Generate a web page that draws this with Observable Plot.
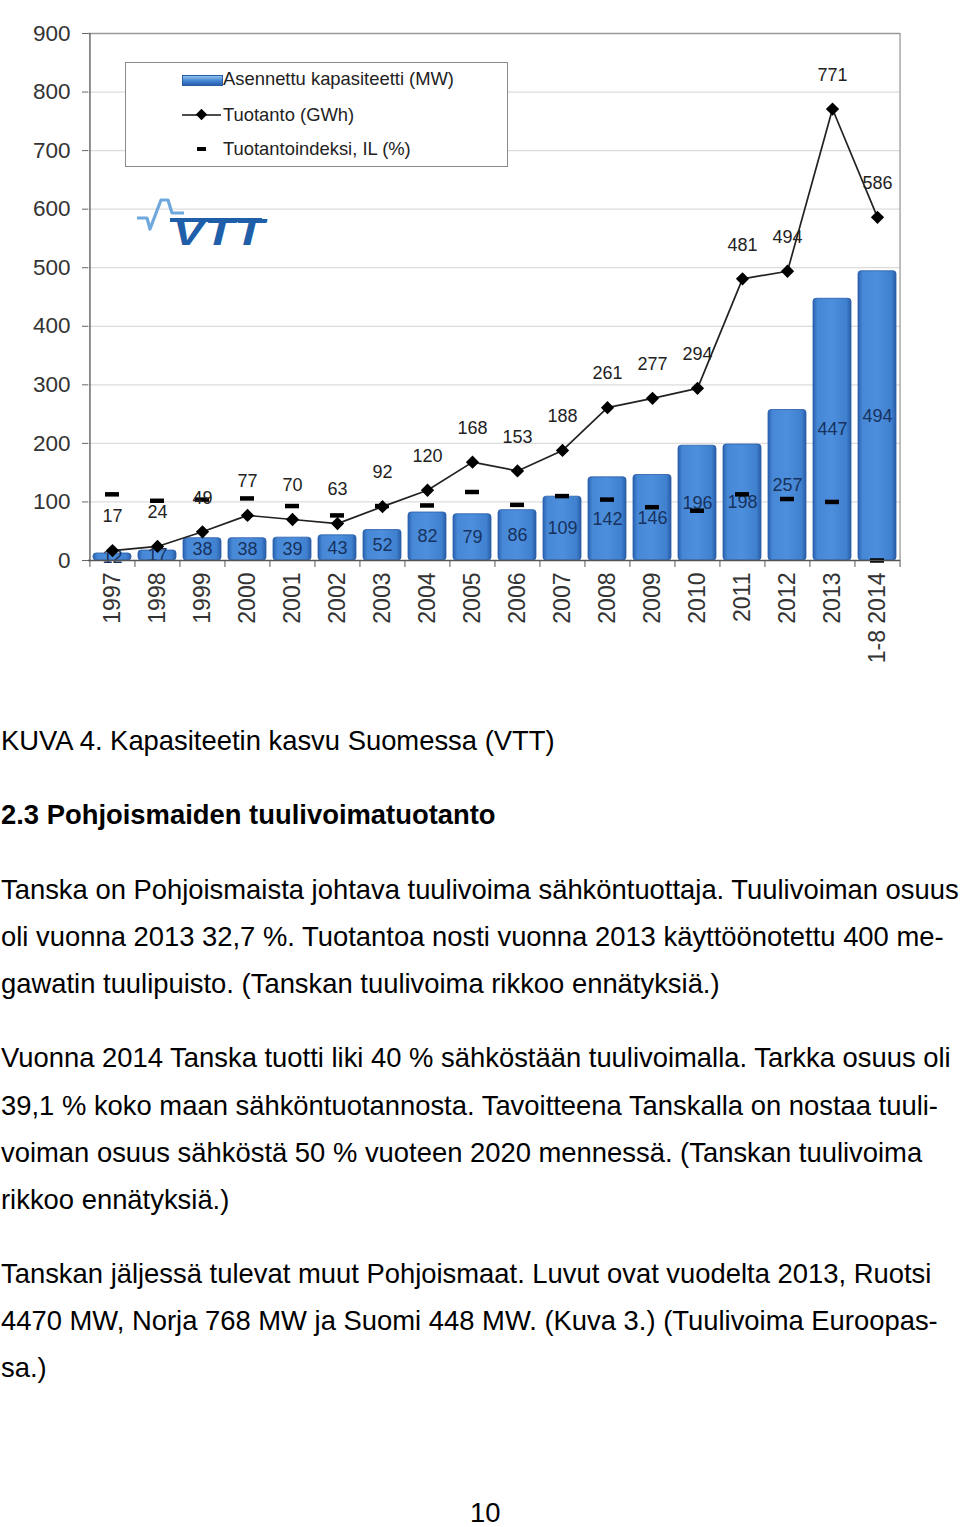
<!DOCTYPE html>
<html>
<head>
<meta charset="utf-8">
<script src="https://cdn.jsdelivr.net/npm/d3@7"></script>
<script src="https://cdn.jsdelivr.net/npm/@observablehq/plot@0.6"></script>
<style>
  html, body { margin: 0; padding: 0; background: #fff; }
  #page { position: relative; width: 960px; height: 1527px; overflow: hidden; font-family: "Liberation Sans", Arial, sans-serif; color: #000; }
  #chart { position: absolute; left: 0; top: 0; }
  #legend { position: absolute; left: 125px; top: 62px; width: 383px; height: 105px; border: 1.3px solid #8a8a8a; box-sizing: border-box; background: #fff; font-family: "Liberation Sans", Arial, sans-serif; font-size: 18.4px; color: #222; }
  .li { position: absolute; left: 97px; height: 24px; line-height: 24px; white-space: nowrap; }
  .line { position: absolute; left: 1px; width: 980px; height: 40px; line-height: 40px; white-space: nowrap; font-size: 27.4px; }
</style>
</head>
<body>
<div id="page">
  <div id="chart"></div>
  <div id="legend">
    <div style="position:absolute;left:56px;top:12px;width:39px;height:9px;background:linear-gradient(#8fc0f0,#3f7fcf 60%,#2a5fab);border:1px solid #2a5da8;"></div>
    <div class="li" style="top:4px;">Asennettu kapasiteetti (MW)</div>
    <svg style="position:absolute;left:56px;top:44px;" width="40" height="16"><line x1="0" y1="8" x2="39" y2="8" stroke="#111" stroke-width="1.5"/><rect x="15.5" y="3.5" width="8" height="8" transform="rotate(45 19.5 7.5)" fill="#000"/></svg>
    <div class="li" style="top:40px;">Tuotanto (GWh)</div>
    <div style="position:absolute;left:71px;top:84px;width:9px;height:4px;background:#000;"></div>
    <div class="li" style="top:74px;">Tuotantoindeksi, IL (%)</div>
  </div>
  <svg style="position:absolute;left:130px;top:195px;overflow:visible;" width="140" height="55">
    <path d="M7,23 L17,23 L20,34 L31,5 L38,5 L42,18 L54,18" fill="none" stroke="#6ea8dc" stroke-width="3.2" stroke-linejoin="round"/>
    <g transform="skewX(-14)">
      <text x="52" y="50" font-family="Liberation Sans, Arial" font-weight="bold" font-size="38" fill="#1f5ea8" textLength="92" lengthAdjust="spacingAndGlyphs">VTT</text>
    </g>
    <line x1="40" y1="25" x2="132" y2="25" stroke="#1f5ea8" stroke-width="4"/>
  </svg>

  <div class="line" style="top:721px;">KUVA 4. Kapasiteetin kasvu Suomessa (VTT)</div>
  <div class="line" style="top:795px;font-weight:bold;">2.3 Pohjoismaiden tuulivoimatuotanto</div>
  <div class="line" style="top:870px;">Tanska on Pohjoismaista johtava tuulivoima sähköntuottaja. Tuulivoiman osuus</div>
  <div class="line" style="top:917px;">oli vuonna 2013 32,7 %. Tuotantoa nosti vuonna 2013 käyttöönotettu 400 me-</div>
  <div class="line" style="top:964px;">gawatin tuulipuisto. (Tanskan tuulivoima rikkoo ennätyksiä.)</div>
  <div class="line" style="top:1038px;">Vuonna 2014 Tanska tuotti liki 40 % sähköstään tuulivoimalla. Tarkka osuus oli</div>
  <div class="line" style="top:1086px;">39,1 % koko maan sähköntuotannosta. Tavoitteena Tanskalla on nostaa tuuli-</div>
  <div class="line" style="top:1133px;">voiman osuus sähköstä 50 % vuoteen 2020 mennessä. (Tanskan tuulivoima</div>
  <div class="line" style="top:1180px;">rikkoo ennätyksiä.)</div>
  <div class="line" style="top:1254px;">Tanskan jäljessä tulevat muut Pohjoismaat. Luvut ovat vuodelta 2013, Ruotsi</div>
  <div class="line" style="top:1301px;">4470 MW, Norja 768 MW ja Suomi 448 MW. (Kuva 3.) (Tuulivoima Euroopas-</div>
  <div class="line" style="top:1348px;">sa.)</div>
  <div class="line" style="top:1493px;left:470px;width:40px;">10</div>
</div>
<script>
const years = ["1997","1998","1999","2000","2001","2002","2003","2004","2005","2006","2007","2008","2009","2010","2011","2012","2013","1-8 2014"];
const capacity = [12,17,38,38,39,43,52,82,79,86,109,142,146,196,198,257,447,494];
const production = [17,24,49,77,70,63,92,120,168,153,188,261,277,294,481,494,771,586];
const productionIndex = [113,102,104,106,93,77,93,94,117,95,110,104,91,85,113,105,100,0];
const yTicks = [0,100,200,300,400,500,600,700,800,900];

const data = years.map((year, i) => ({year, cap: capacity[i], prod: production[i], il: productionIndex[i]}));

const W = 960, H = 680, ML = 88, MR = 60, MT = 33, MB = 120;
const half = (W - ML - MR) / years.length / 2;
const last = years[years.length - 1];

const chart = Plot.plot({
  width: W, height: H,
  marginLeft: ML, marginRight: MR, marginTop: MT, marginBottom: MB,
  style: {fontFamily: "Liberation Sans, Arial, sans-serif", fontSize: "22px", color: "#333", background: "transparent"},
  x: {domain: years, paddingInner: 0.16, paddingOuter: 0.08, label: null},
  y: {domain: [0, 900], label: null},
  marks: [
    Plot.ruleY(yTicks.filter(d => d > 0 && d < 900), {stroke: "#dcdcdc", strokeWidth: 1.2}),
    Plot.ruleY([900], {stroke: "#9a9a9a", strokeWidth: 1.3}),
    Plot.ruleX([last], {dx: half, stroke: "#9a9a9a", strokeWidth: 1.3}),
    Plot.axisY({ticks: yTicks, tickSize: 6, tickPadding: 12, stroke: "#666", fill: "#333", fontSize: 22.5}),
    Plot.axisX({tickRotate: -90, tickSize: 0, tickPadding: 12, fill: "#333", fontSize: 23}),
    Plot.barY(data, {x: "year", y: "cap", fill: "url(#barGrad)", stroke: "#2a5da8", strokeWidth: 0.8, rx: 3}),
    Plot.text(data, {x: "year", y: d => d.cap / 2, text: d => String(d.cap), fill: "#17325f", fontSize: 18}),
    Plot.tickY(data, {x: "year", y: "il", stroke: "#000", strokeWidth: 4.5, insetLeft: 12, insetRight: 12}),
    Plot.line(data, {x: "year", y: "prod", stroke: "#222", strokeWidth: 1.7}),
    Plot.dot(data, {x: "year", y: "prod", symbol: "square", r: 5.3, rotate: 45, fill: "#000", stroke: null}),
    Plot.text(data, {x: "year", y: "prod", text: d => String(d.prod), dy: -34, fill: "#222", fontSize: 18}),
    Plot.ruleX([years[0]], {dx: -half, stroke: "#555", strokeWidth: 1.3}),
    Plot.ruleY([0], {stroke: "#555", strokeWidth: 1.3}),
    Plot.ruleX(years, {dx: -half, y1: 0, y2: 0, insetBottom: -7, stroke: "#555"}),
    Plot.ruleX([last], {dx: half, y1: 0, y2: 0, insetBottom: -7, stroke: "#555"})
  ]
});

const ns = "http://www.w3.org/2000/svg";
const defs = document.createElementNS(ns, "defs");
defs.innerHTML = `<linearGradient id="barGrad" x1="0" y1="0" x2="1" y2="0">
  <stop offset="0" stop-color="#2b62b0"/>
  <stop offset="0.12" stop-color="#4688d6"/>
  <stop offset="0.5" stop-color="#4d8fdc"/>
  <stop offset="0.88" stop-color="#3f80cf"/>
  <stop offset="1" stop-color="#2a5ca6"/>
</linearGradient>`;
chart.insertBefore(defs, chart.firstChild);
document.getElementById("chart").appendChild(chart);
</script>
</body>
</html>
